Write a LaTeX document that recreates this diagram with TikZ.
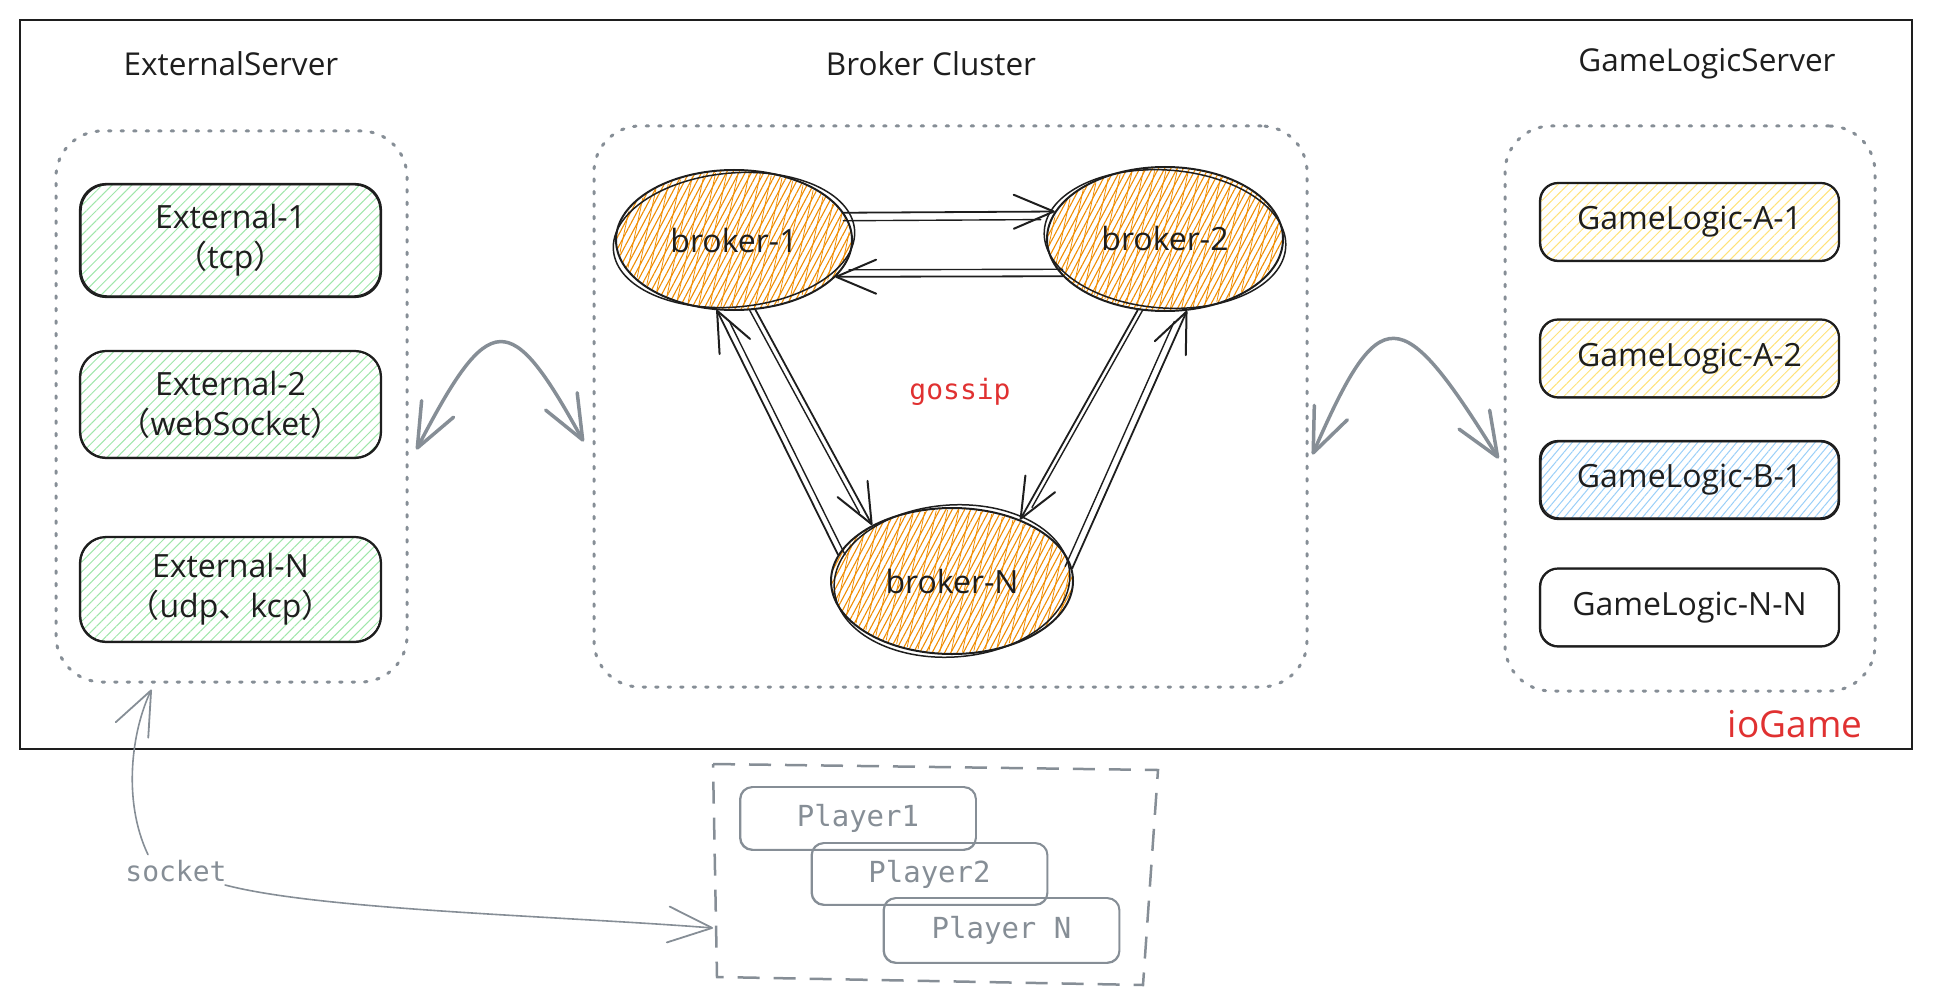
\documentclass[tikz,border=0pt]{standalone}
\usepackage{fontspec}
\usepackage{graphicx}
\setmainfont{Open Sans}
\newfontfamily\cjk{Noto Sans CJK SC}
\newfontfamily\mono{DejaVu Sans Mono}
\usetikzlibrary{arrows.meta,patterns.meta,shapes.geometric,calc}
\definecolor{sgray}{HTML}{868E96}
\definecolor{sred}{HTML}{E03131}
\definecolor{hgreen}{HTML}{9FE6AA}
\definecolor{hyellow}{HTML}{FFE27A}
\definecolor{hblue}{HTML}{9ACFF8}
\definecolor{horange}{HTML}{F08C00}
\definecolor{ink}{HTML}{1E1E1E}
\newcommand\skbox[3]{\draw[#1, rounded corners=#2] ([shift={(1.6,1.3)}]#3.north west) rectangle ([shift={(-1.3,-1.6)}]#3.south east);}
\begin{document}
\begin{tikzpicture}[x=1pt,y=-1pt,
  title/.style={font=\fontsize{31.5}{36}\selectfont, text=ink},
  grp/.style={draw=sgray, line width=3pt, dash pattern=on 2.5pt off 10pt, line cap=round, rounded corners=46pt, inner sep=0pt},
  boxbase/.style={draw=ink, line width=2.2pt, inner sep=0pt, align=center, text=ink},
  ebox/.style={boxbase, rounded corners=26pt, minimum width=301pt, font=\fontsize{32}{40}\selectfont, pattern={Lines[angle=45,distance=7pt,line width=1pt]}, pattern color=hgreen},
  gbox/.style={boxbase, rounded corners=18pt, minimum width=299pt, minimum height=78pt, font=\fontsize{32}{36}\selectfont},
  yfill/.style={pattern={Lines[angle=45,distance=7pt,line width=1pt]}, pattern color=hyellow},
  bfill/.style={pattern={Lines[angle=50,distance=6pt,line width=1pt]}, pattern color=hblue},
  brk/.style={ellipse, draw=ink, line width=2pt, inner sep=0pt, font=\fontsize{32}{36}\selectfont, text=ink, pattern={Lines[angle=62,distance=5.5pt,line width=1.1pt]}, pattern color=horange},
  brk2/.style={pattern={Lines[angle=78,distance=11pt,line width=0.8pt]}, pattern color=horange},
  barrow/.style={draw=ink, line width=1.8pt, line cap=round, -{Straight Barb[length=40pt,width=34pt,line width=2pt,round]}},
  bsec/.style={draw=ink, line width=1.4pt, line cap=round},
  garc/.style={draw=sgray, line width=3.5pt, line cap=round, {Straight Barb[length=44pt,width=36pt,round]}-{Straight Barb[length=44pt,width=36pt,round]}},
  sarr/.style={draw=sgray, line width=1.6pt, line cap=round, -{Straight Barb[length=44pt,width=36pt,round,line width=1.8pt]}},
  pbox/.style={draw=sgray, line width=1.8pt, rounded corners=12pt, minimum width=236pt, inner sep=0pt, font=\fontsize{29}{34}\mono, text=sgray},
  mtext/.style={font=\fontsize{28}{32}\mono}
]
\useasboundingbox (0,0) rectangle (1934,1000);

% outer frame
\draw[ink, line width=2pt] (20,20) rectangle (1912,749);
\node[font=\fontsize{37}{42}\selectfont, text=sred] (io) at (1795,724) {ioGame};

% titles
\node[title] (t1) at (231,64) {ExternalServer};
\node[title] (t2) at (931,64) {Broker Cluster};
\node[title] (t3) at (1707,64) {GameLogicServer};

% group containers
\node[grp, minimum width=351pt, minimum height=551pt] (ext) at (231.5,406.5) {};
\node[grp, minimum width=713pt, minimum height=561pt] (bc) at (950.5,406.5) {};
\node[grp, minimum width=370pt, minimum height=565pt] (gls) at (1690,408.5) {};

% external servers
\node[ebox, minimum height=113pt] (e1) at (230.5,240.5) {External-1\\{\cjk （}tcp{\cjk ）}};
\node[ebox, minimum height=107pt] (e2) at (230.5,404.5) {External-2\\{\cjk （}webSocket{\cjk ）}};
\node[ebox, minimum height=105pt] (en) at (230.5,589.5) {External-N\\{\cjk （}udp{\cjk 、}kcp{\cjk ）}};
\skbox{ink, line width=1.2pt}{26pt}{e1}
\skbox{ink, line width=1.2pt}{26pt}{e2}
\skbox{ink, line width=1.2pt}{26pt}{en}

% game logic servers
\node[gbox, yfill] (ga1) at (1689.5,222) {GameLogic-A-1};
\node[gbox, yfill] (ga2) at (1689.5,358.5) {GameLogic-A-2};
\node[gbox, bfill] (gb1) at (1689.5,480) {GameLogic-B-1};
\node[gbox] (gnn) at (1689.5,607.5) {GameLogic-N-N};
\skbox{ink, line width=1.2pt}{18pt}{ga1}
\skbox{ink, line width=1.2pt}{18pt}{ga2}
\skbox{ink, line width=1.2pt}{18pt}{gb1}
\skbox{ink, line width=1.2pt}{18pt}{gnn}

% brokers
\path[brk2] (734,240) ellipse [x radius=116pt, y radius=68pt];
\path[brk2] (1165,239) ellipse [x radius=116pt, y radius=70pt];
\path[brk2] (952,581) ellipse [x radius=119pt, y radius=71pt];
\node[brk, minimum width=236pt, minimum height=140pt] (b1) at (734,240) {broker-1};
\node[brk, minimum width=236pt, minimum height=144pt] (b2) at (1165,239) {broker-2};
\node[brk, minimum width=242pt, minimum height=146pt] (bN) at (952,581) {broker-N};
\draw[ink, line width=1.5pt, rotate around={5:(b1)}] (b1) ellipse [x radius=121pt, y radius=67pt];
\draw[ink, line width=1.5pt, rotate around={-4:(b2)}] (b2) ellipse [x radius=121pt, y radius=69pt];
\draw[ink, line width=1.5pt, rotate around={4:(bN)}] (bN) ellipse [x radius=118pt, y radius=76pt];

\node[mtext, text=sred] (gos) at (960,392) {gossip};

% broker arrows
\draw[barrow] (b1.14) -- (b2.166);
\draw[bsec, shorten >=14pt] ([shift={(0,8)}]b1.14) -- ([shift={(0,8)}]b2.166);
\draw[barrow] (b2.200) -- (b1.340);
\draw[bsec, shorten >=14pt] ([shift={(0,-7)}]b2.200) -- ([shift={(0,-7)}]b1.340);
\draw[barrow] (b1.287) -- (bN.145);
\draw[bsec, shorten >=14pt] ([shift={(-6,0)}]b1.287) -- ([shift={(-6,0)}]bN.145);
\draw[barrow] (bN.167) -- (b1.256);
\draw[bsec, shorten >=14pt] ([shift={(7,0)}]bN.167) -- ([shift={(7,0)}]b1.256);
\draw[barrow] (b2.249) -- (bN.42);
\draw[bsec, shorten >=14pt] ([shift={(5,0)}]b2.249) -- ([shift={(5,0)}]bN.42);
\draw[barrow] (bN.6) -- (b2.287);
\draw[bsec, shorten >=14pt] ([shift={(-7,-2)}]bN.6) -- ([shift={(-7,-2)}]b2.287);

% big gray arcs
\draw[garc] ($(ext.east)+(8,43)$) .. controls (490,308) and (510,308) .. ($(bc.west)+(-9,35)$);
\draw[garc] ($(bc.east)+(4,48)$) .. controls (1380,300) and (1400,300) .. ($(gls.west)+(-5,50)$);

% players
\draw[sgray, line width=2.5pt, dash pattern=on 22pt off 14pt] (713,764) -- (1158,770) -- (1143,985) -- (717,977) -- cycle;
\coordinate (plL) at (713,928);
\node[pbox, minimum height=63pt] (p1) at (858,818.5) {Player1};
\node[pbox, minimum height=62pt] (p2) at (929.5,874) {Player2};
\node[pbox, minimum height=65pt] (pN) at (1001.5,930.5) {Player N};
\skbox{sgray, line width=1.1pt}{12pt}{p1}
\skbox{sgray, line width=1.1pt}{12pt}{p2}
\skbox{sgray, line width=1.1pt}{12pt}{pN}

% socket
\node[mtext, text=sgray] (sock) at (176,871) {socket};
\draw[sarr] ($(sock.north)+(-28,-2)$) .. controls (122,800) and (132,730) .. ($(ext.south west)+(97,6)$);
\draw[sarr] ($(sock.east)+(-5,14)$) .. controls (320,910) and (560,916) .. (plL);
\end{tikzpicture}
\end{document}
